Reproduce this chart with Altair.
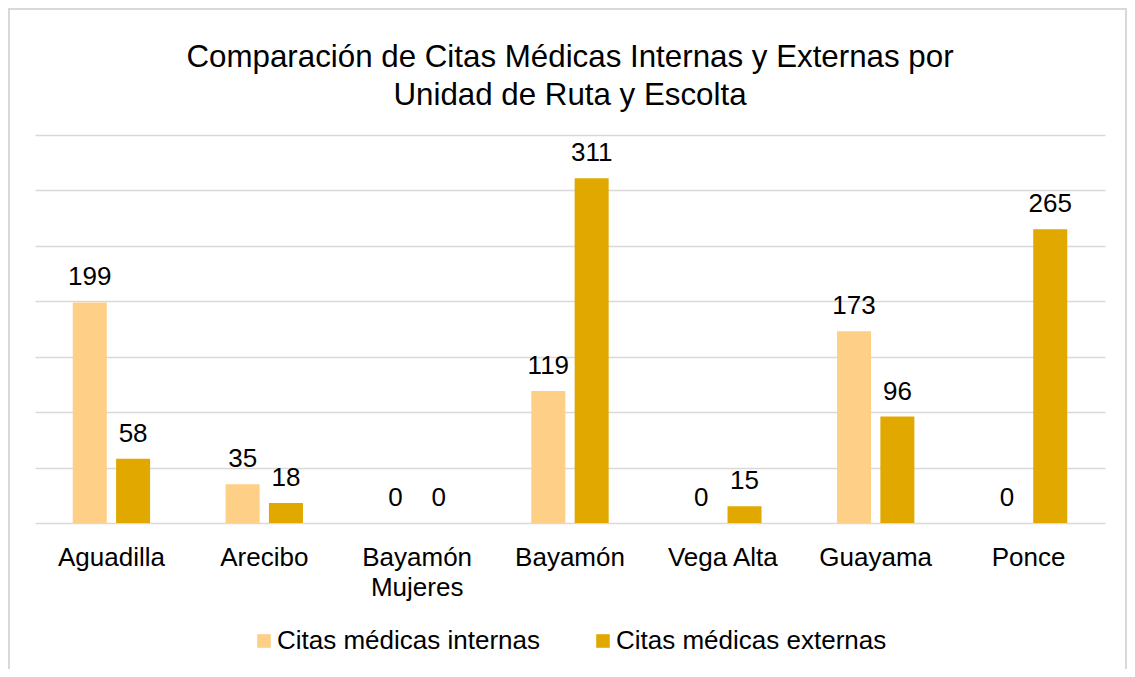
import altair as alt
import pandas as pd

categories = ["Aguadilla", "Arecibo", "Bayamón\nMujeres", "Bayamón", "Vega Alta", "Guayama", "Ponce"]
internas = [199, 35, 0, 119, 0, 173, 0]
externas = [58, 18, 0, 311, 15, 96, 265]
series = ["Citas médicas internas", "Citas médicas externas"]
colors = ["#FECF86", "#E1A900"]
title_lines = ["Comparación de Citas Médicas Internas y Externas por", "Unidad de Ruta y Escolta"]

rows = []
for c, a, b in zip(categories, internas, externas):
    rows.append({"cat": c, "serie": series[0], "valor": a})
    rows.append({"cat": c, "serie": series[1], "valor": b})
df = pd.DataFrame(rows)

FONT = "Liberation Sans"

x_enc = alt.X("cat:N", sort=categories,
              scale=alt.Scale(paddingInner=0.494, paddingOuter=0.247),
              axis=alt.Axis(title=None, labelAngle=0, domain=False, ticks=False,
                            labelPadding=21, labelFontSize=26, labelFont=FONT,
                            labelColor="#000000", labelLineHeight=30,
                            labelExpr="split(datum.label, '\\n')", grid=False))
y_enc = alt.Y("valor:Q", scale=alt.Scale(domain=[0, 350], nice=False),
              axis=alt.Axis(title=None, labels=False, ticks=False, domain=False,
                            grid=True, gridColor="#D9D9D9", gridWidth=1.3,
                            values=[0, 50, 100, 150, 200, 250, 300, 350]))
xo_enc = alt.XOffset("serie:N", sort=series,
                     scale=alt.Scale(paddingInner=0.215, paddingOuter=0))

base = alt.Chart(df)

bars = base.mark_bar().encode(
    x=x_enc, y=y_enc, xOffset=xo_enc,
    color=alt.Color("serie:N", sort=series,
                    scale=alt.Scale(domain=series, range=colors),
                    legend=alt.Legend(title=None, orient="none", direction="horizontal",
                                      legendX=216, legendY=493,
                                      symbolType="square", symbolSize=185,
                                      symbolStrokeWidth=0,
                                      labelFontSize=26, labelFont=FONT,
                                      labelColor="#000000", labelOffset=0,
                                      columnPadding=50, labelLimit=400)),
)

labels = base.mark_text(baseline="alphabetic", dy=-17, fontSize=26, font=FONT,
                        color="#000000").encode(
    x=alt.X("cat:N", sort=categories), xOffset=alt.XOffset("serie:N", sort=series),
    y="valor:Q", text="valor:Q",
)

onerow = pd.DataFrame({"a": [0]})

border = alt.Chart(onerow).mark_rect(
    fill="transparent", stroke="#D9D9D9", strokeWidth=2
).encode(x=alt.value(-26), x2=alt.value(1091), y=alt.value(-126), y2=alt.value(720))

title = alt.Chart(onerow).mark_text(
    text=title_lines, fontSize=31.3, font=FONT, color="#000000", lineHeight=38,
    align="center", baseline="alphabetic"
).encode(x=alt.value(535), y=alt.value(-68))

chart = alt.layer(border, bars, labels, title).properties(
    width=1070, height=388,
    autosize=alt.AutoSizeParams(type="none"),
    padding={"left": 27, "top": 127, "right": 22, "bottom": 146},
    background="white",
).configure_view(stroke=None)

chart.save("out.html", embed_options={"renderer": "svg", "actions": False})
